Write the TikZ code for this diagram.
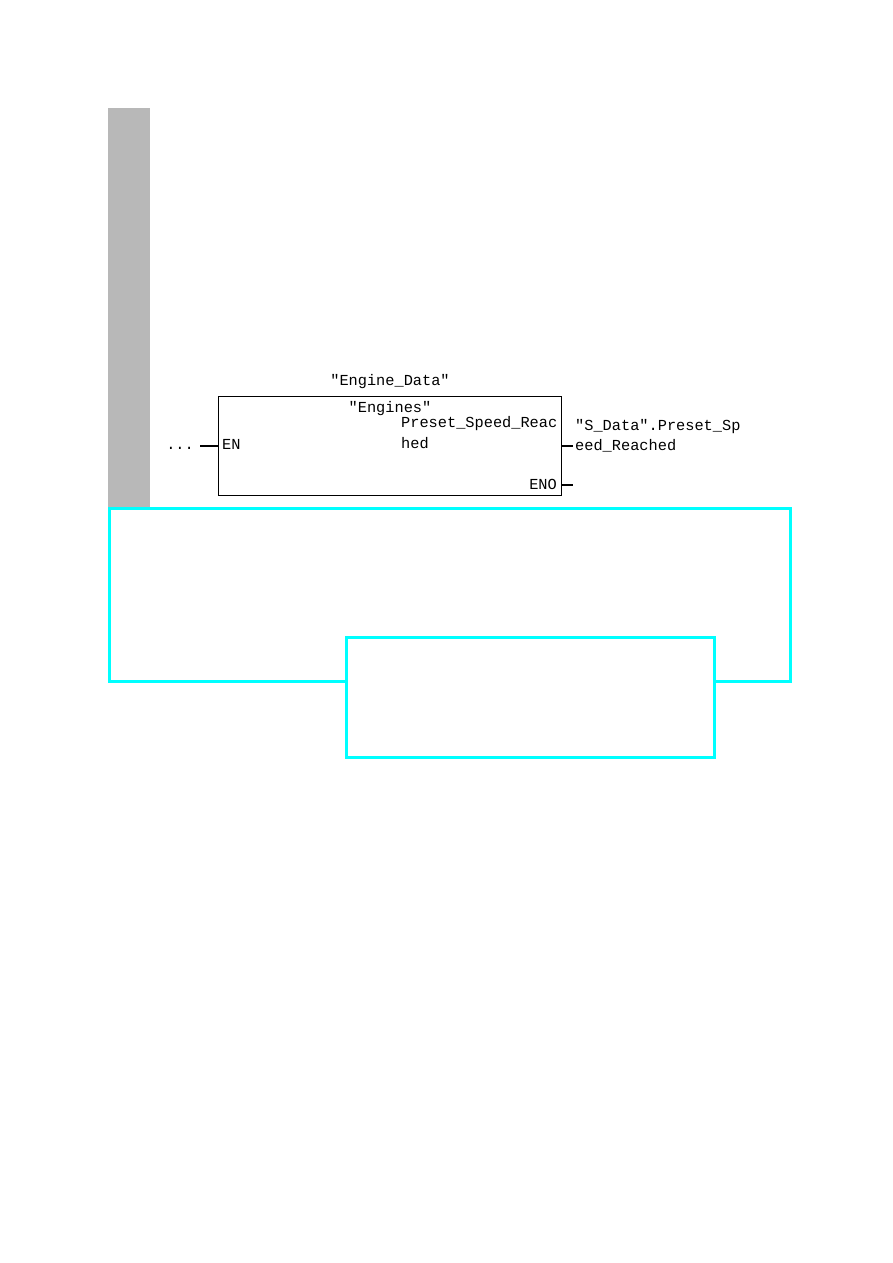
\documentclass[tikz,border=0pt]{standalone}
\usepackage{fontspec}
\setmonofont{Liberation Mono}
\begin{document}
\begin{tikzpicture}[x=1pt,y=-1pt,
  lbl/.style={inner sep=0pt,font=\ttfamily\fontsize{15.3}{17}\selectfont},
  wire/.style={line width=2.5pt},
  cyanbox/.style={draw={rgb,255:red,0;green,255;blue,255},line width=3.2pt}]
\useasboundingbox (0,0) rectangle (893,1263);
\fill[fill={rgb,255:red,184;green,184;blue,184}] (108,108) rectangle (150,507);
\node[cyanbox,minimum width=681pt,minimum height=173pt,inner sep=0pt,anchor=north west] (big) at (108,507) {};
\node[cyanbox,fill=white,minimum width=368pt,minimum height=120pt,inner sep=0pt,anchor=north west] (small) at (345,636) {};
\node[draw,line width=1.3pt,minimum width=343pt,minimum height=99pt,inner sep=0pt,anchor=north west] (fb) at (218,396) {};
\node[lbl] (inst) at (390,382) {"Engine\_Data"};
\node[lbl] (eng) at (390,409) {"Engines"};
\node[lbl,anchor=west] (pin1) at (401,424) {Preset\_Speed\_Reac};
\node[lbl,anchor=west] (pin2) at (401,443) {hed};
\node[lbl,anchor=west] (en) at (222,444) {EN};
\node[lbl,anchor=east] (eno) at (557,484) {ENO};
\node[lbl,anchor=east] (dots) at (194,448) {...};
\node[lbl,anchor=west] (out1) at (575,427) {"S\_Data".Preset\_Sp};
\node[lbl,anchor=west] (out2) at (575,446) {eed\_Reached};
\coordinate (enin) at (200,446);
\coordinate (outq) at (573,446);
\coordinate (enoq) at (573,485);
\draw[wire] (enin) -- (enin -| fb.west);
\draw[wire] (outq -| fb.east) -- (outq);
\draw[wire] (enoq -| fb.east) -- (enoq);
\end{tikzpicture}
\end{document}
